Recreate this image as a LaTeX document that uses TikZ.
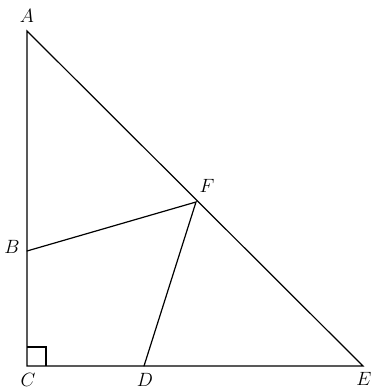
\documentclass[tikz,border=0pt]{standalone}
\begin{document}
\begin{tikzpicture}[x=0.75pt,y=-0.75pt,
  edge/.style={line width=0.9pt,line cap=round,line join=miter},
  lab/.style={inner sep=0pt,font=\fontsize{15.5}{18}\selectfont}]
\useasboundingbox (0,0) rectangle (374,391);
\coordinate (A) at (27,31);
\coordinate (C) at (27,366);
\coordinate (E) at (363,366);
\coordinate (B) at (27,251);
\coordinate (F) at (196,202);
\coordinate (D) at (144,366);
\draw[edge] (A) -- (C) -- (E) -- cycle;
\draw[edge] (B) -- (F) -- (D);
\draw[line width=0.8pt] (27,347) -- (46,347) -- (46,366);
\node[lab] (lA) at (27,16) {$A$};
\node[lab] (lB) at (12,247) {$B$};
\node[lab] (lC) at (28,380) {$C$};
\node[lab] (lD) at (145,380) {$D$};
\node[lab] (lE) at (364,379) {$E$};
\node[lab] (lF) at (207,186) {$F$};
\end{tikzpicture}
\end{document}
